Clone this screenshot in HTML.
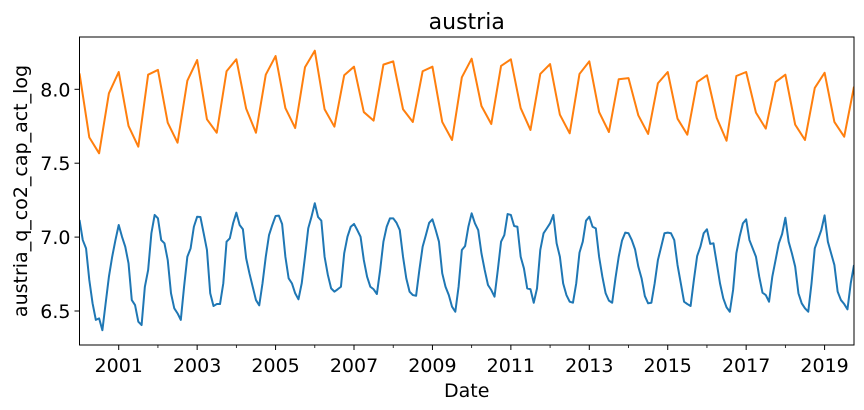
<!DOCTYPE html>
<html><head><meta charset="utf-8"><style>
body{margin:0;background:#fff;}
svg{display:block;font-family:"DejaVu Sans","Liberation Sans",sans-serif;}
</style></head><body>
<svg id="chart" width="864" height="410"></svg>
<script>
const orangeStart = 2000;
const orangeValues = [8.108,7.675,7.567,7.973, 8.117,7.752,7.612,8.099, 8.131,7.774,7.639,8.058, 8.198,7.797,7.706,8.122, 8.203,7.869,7.706,8.099, 8.225,7.873,7.738,8.149, 8.261,7.865,7.747,8.095, 8.153,7.846,7.788,8.167, 8.189,7.865,7.779,8.122, 8.153,7.779,7.657,8.081, 8.207,7.887,7.765,8.158, 8.203,7.873,7.725,8.104, 8.171,7.828,7.702,8.104, 8.189,7.846,7.711,8.068, 8.076,7.824,7.698,8.041, 8.117,7.801,7.693,8.049, 8.095,7.806,7.652,8.090, 8.117,7.842,7.734,8.049, 8.099,7.761,7.657,8.009, 8.112,7.779,7.679,8.018];
const blueValues = [
7.116,6.98,6.924,6.71,6.552,6.44,6.45,6.37,6.552,6.732,6.867,6.98,
7.082,7.003,6.935,6.823,6.574,6.54,6.428,6.405,6.664,6.777,7.026,7.15,
7.127,6.98,6.958,6.845,6.62,6.518,6.484,6.44,6.664,6.867,6.924,7.07,
7.138,7.136,7.026,6.913,6.62,6.534,6.547,6.547,6.687,6.969,6.992,7.093,
7.165,7.082,7.053,6.857,6.755,6.664,6.574,6.538,6.687,6.867,7.014,7.082,
7.143,7.145,7.089,6.867,6.721,6.687,6.62,6.579,6.687,6.867,7.06,7.138,
7.229,7.136,7.111,6.867,6.744,6.653,6.631,6.647,6.664,6.89,7.003,7.07,
7.089,7.048,7.003,6.845,6.732,6.664,6.647,6.615,6.777,6.969,7.07,7.127,
7.127,7.097,7.048,6.867,6.721,6.631,6.608,6.603,6.777,6.935,7.014,7.097,
7.12,7.048,6.969,6.755,6.664,6.608,6.529,6.495,6.664,6.913,6.94,7.07,
7.161,7.093,7.048,6.89,6.777,6.676,6.642,6.597,6.777,6.969,7.014,7.156,
7.15,7.075,7.07,6.867,6.788,6.653,6.647,6.556,6.653,6.913,7.026,7.059,
7.093,7.15,6.958,6.867,6.687,6.608,6.563,6.556,6.687,6.895,6.969,7.111,
7.138,7.07,7.059,6.867,6.732,6.62,6.57,6.556,6.721,6.867,6.976,7.03,
7.026,6.98,6.917,6.8,6.721,6.601,6.552,6.556,6.687,6.845,6.935,7.026,
7.03,7.026,6.98,6.811,6.687,6.563,6.547,6.534,6.71,6.872,6.935,7.026,
7.053,6.954,6.958,6.823,6.687,6.586,6.525,6.495,6.642,6.89,7.003,7.093,
7.12,6.98,6.924,6.867,6.732,6.624,6.608,6.563,6.732,6.845,6.958,7.021,
7.131,6.969,6.89,6.8,6.62,6.552,6.518,6.495,6.687,6.924,6.985,7.048,
7.147,6.969,6.89,6.811,6.631,6.574,6.547,6.511,6.687,6.811];
const yTicks = [6.5,7.0,7.5,8.0];
const xTickYears = [2001,2003,2005,2007,2009,2011,2013,2015,2017,2019];
const xMinorYears = [2002,2004,2006,2008,2010,2012,2014,2016,2018];

const L=79.5,R=854,T=37,B=345;
const xMin=2000, xMax=2019.75;
const sx=v=>L+(v-xMin)/(xMax-xMin)*(R-L);
const sy=v=>311-(v-6.5)/0.5*73.9;
const NS="http://www.w3.org/2000/svg";
const svg=document.getElementById('chart');
function mk(tag,attrs,parent){const e=document.createElementNS(NS,tag);for(const k in attrs)e.setAttribute(k,attrs[k]);(parent||svg).appendChild(e);return e;}

const clip=mk('clipPath',{id:'pc'});mk('rect',{x:L,y:T,width:R-L,height:B-T},clip);

const bp=blueValues.map((v,i)=>sx(xMin+i/12).toFixed(2)+','+sy(v).toFixed(2)).join(' ');
const blue=mk('polyline',{points:bp,fill:'none',stroke:'#1f77b4','stroke-width':2,'clip-path':'url(#pc)','stroke-linejoin':'round'});


const op=orangeValues.map((v,i)=>sx(orangeStart+i/4).toFixed(2)+','+sy(v).toFixed(2)).join(' ');
const orange=mk('polyline',{points:op,fill:'none',stroke:'#ff7f0e','stroke-width':2,'clip-path':'url(#pc)','stroke-linejoin':'round'});



const frame=mk('rect',{x:L,y:T,width:R-L,height:B-T,fill:'none',stroke:'#000','stroke-width':1});



yTicks.forEach(v=>{
  const y=sy(v);
  const t=mk('line',{x1:L-5,x2:L,y1:y,y2:y,stroke:'#000','stroke-width':1});
  
  
  const lb=mk('text',{x:L-9,y:y+7,'text-anchor':'end','font-size':19});
  lb.textContent=v.toFixed(1);
  
  
});
xTickYears.forEach(v=>{
  const x=sx(v);
  const t=mk('line',{x1:x,x2:x,y1:B,y2:B+5,stroke:'#000','stroke-width':1});
  
  
  const lb=mk('text',{x:x,y:B+27,'text-anchor':'middle','font-size':19});
  lb.textContent=String(v);
  
  
});
xMinorYears.forEach(v=>{
  const x=sx(v);
  const t=mk('line',{x1:x,x2:x,y1:B,y2:B+3,stroke:'#000','stroke-width':0.8});
  
  
});
const title=mk('text',{x:(L+R)/2,y:29,'text-anchor':'middle','font-size':22});
title.textContent='austria';


const xt=mk('text',{x:(L+R)/2,y:397,'text-anchor':'middle','font-size':19});
xt.textContent='Date';


const yt=mk('text',{x:0,y:0,'text-anchor':'middle','font-size':19,transform:'translate(27,'+((T+B)/2)+') rotate(-90)'});
yt.textContent='austria_q_co2_cap_act_log';


</script>
</body></html>
